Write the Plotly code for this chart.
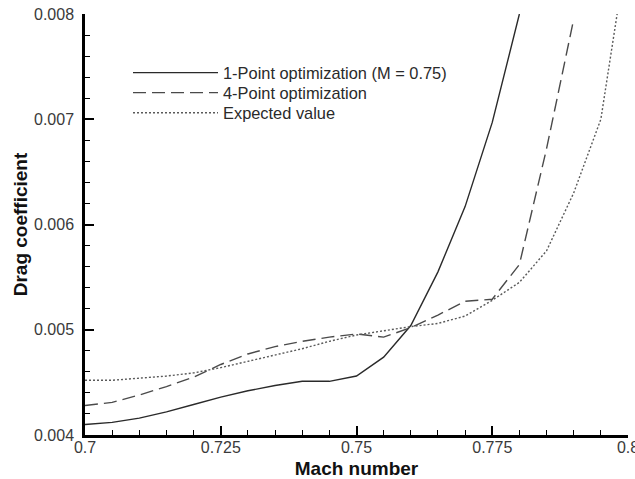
import plotly.graph_objects as go

mach_1pt = [0.700, 0.705, 0.710, 0.715, 0.720, 0.725, 0.730, 0.735, 0.740, 0.745,
            0.750, 0.755, 0.760, 0.765, 0.770, 0.775, 0.780]
cd_1pt = [0.00410, 0.00412, 0.00416, 0.00422, 0.00429, 0.00436, 0.00442, 0.00447, 0.00451, 0.00451,
          0.00456, 0.00474, 0.00504, 0.00555, 0.00617, 0.00697, 0.00800]

mach_4pt = [0.700, 0.705, 0.710, 0.715, 0.720, 0.725, 0.730, 0.735, 0.740, 0.745,
            0.750, 0.755, 0.760, 0.765, 0.770, 0.775, 0.780, 0.785, 0.790]
cd_4pt = [0.00428, 0.00431, 0.00438, 0.00446, 0.00455, 0.00467, 0.00477, 0.00484, 0.00489, 0.00493,
          0.00496, 0.00493, 0.00502, 0.00514, 0.00527, 0.00529, 0.00562, 0.00672, 0.00795]

mach_exp = [0.700, 0.705, 0.710, 0.715, 0.720, 0.725, 0.730, 0.735, 0.740, 0.745,
            0.750, 0.755, 0.760, 0.765, 0.770, 0.775, 0.780, 0.785, 0.790, 0.795, 0.798]
cd_exp = [0.00452, 0.00452, 0.00454, 0.00456, 0.00459, 0.00464, 0.00470, 0.00476, 0.00482, 0.00489,
          0.00495, 0.00499, 0.00503, 0.00506, 0.00513, 0.00528, 0.00545, 0.00575, 0.00630, 0.00700, 0.00800]

x_tickvals = [0.7, 0.725, 0.75, 0.775, 0.8]
x_ticktext = ["0.7", "0.725", "0.75", "0.775", "0.8"]
y_tickvals = [0.004, 0.005, 0.006, 0.007, 0.008]
y_ticktext = ["0.004", "0.005", "0.006", "0.007", "0.008"]

names = ["1-Point optimization (M = 0.75)", "4-Point optimization", "Expected value"]

fig = go.Figure()
fig.add_trace(go.Scatter(x=mach_1pt, y=cd_1pt, mode="lines", name=names[0], legend="legend",
                         line=dict(color="#2a2a2a", width=1.4)))
fig.add_trace(go.Scatter(x=mach_4pt, y=cd_4pt, mode="lines", name=names[1], legend="legend2",
                         line=dict(color="#4a4a4a", width=1.4, dash="13px,6px")))
fig.add_trace(go.Scatter(x=mach_exp, y=cd_exp, mode="lines", name=names[2], legend="legend3",
                         line=dict(color="#5a5a5a", width=1.4, dash="2px,2px")))

axis_font = dict(family="Liberation Sans, Arial, sans-serif", size=16, color="#3a3a3a")
title_font = dict(family="Liberation Sans, Arial, sans-serif", size=19, color="#111111")
legend_font = dict(family="Liberation Sans, Arial, sans-serif", size=16.4, color="#2a2a2a")


def legend_box(ypos):
    return dict(x=0.0792, y=ypos, xanchor="left", yanchor="middle",
                bgcolor="rgba(0,0,0,0)", borderwidth=0,
                font=legend_font, itemwidth=85)


fig.update_layout(
    width=635, height=479,
    margin=dict(l=85, r=7, t=14, b=44),
    paper_bgcolor="white", plot_bgcolor="white",
    showlegend=True,
    legend=legend_box(0.8599),
    legend2=legend_box(0.8124),
    legend3=legend_box(0.7648),
    xaxis=dict(range=[0.7, 0.80000001], tickvals=x_tickvals, ticktext=x_ticktext,
               showgrid=False, zeroline=False, showline=True, linecolor="black", linewidth=2.5,
               ticks="inside", ticklen=9, tickwidth=2, tickcolor="black",
               minor=dict(ticks="inside", ticklen=5, tickwidth=1.2, tickcolor="black", dtick=0.005, tick0=0.7, showgrid=False),
               tickfont=axis_font, automargin=False, ticklabeloverflow="allow", ticklabelstandoff=-4,
               title=dict(text="<b>Mach number</b>", font=title_font, standoff=9)),
    yaxis=dict(range=[0.004, 0.008], tickvals=y_tickvals, ticktext=y_ticktext,
               showgrid=False, zeroline=False, showline=True, linecolor="black", linewidth=2.5,
               ticks="inside", ticklen=9, tickwidth=2, tickcolor="black",
               minor=dict(ticks="inside", ticklen=5, tickwidth=1.2, tickcolor="black", dtick=0.0002, tick0=0.004, showgrid=False),
               tickfont=axis_font, automargin=False, ticklabelstandoff=5, ticklabeloverflow="allow",
               title=dict(text="<b>Drag coefficient</b>", font=title_font, standoff=2)),
)

fig.write_html("out.html", config={"displayModeBar": False},
               post_script="document.body.style.margin='0';document.body.style.padding='0';")
